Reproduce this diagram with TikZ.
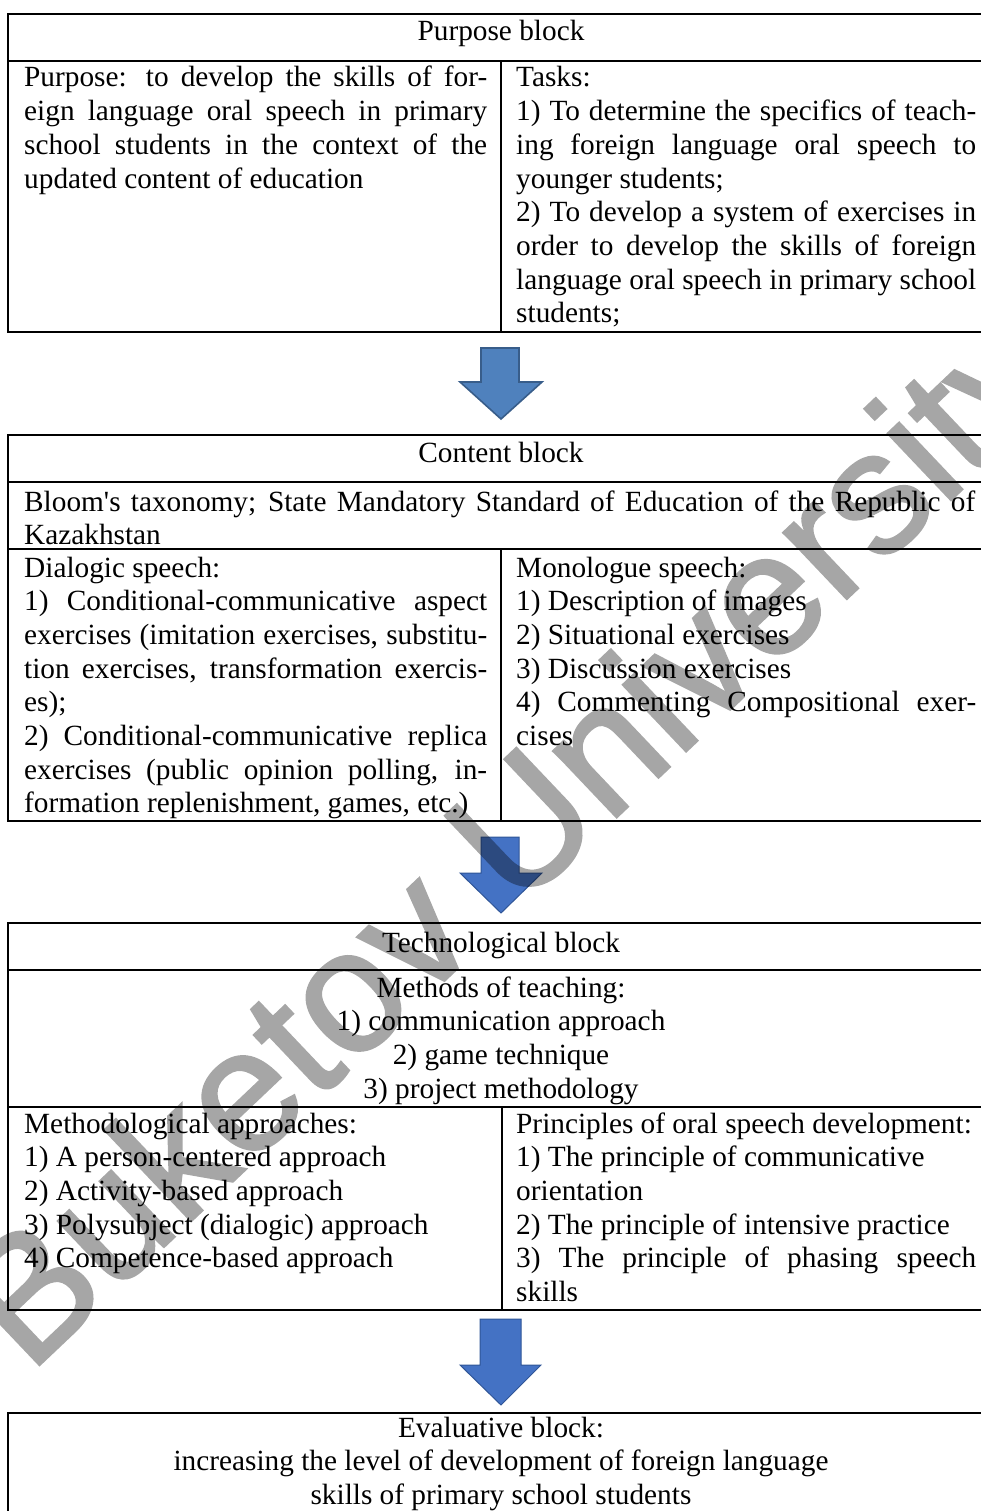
\documentclass[tikz,border=0pt]{standalone}
\usepackage{fontspec}
\setmainfont{Liberation Serif}
\newfontfamily\wmfont[FakeBold=1.5]{Liberation Sans}
\newcommand\jl[1]{\makebox[\linewidth][s]{#1}\\}
\newcommand\lastl[1]{#1}
\tikzset{
  frame/.style={draw=black, line width=1.6pt},
  txt/.style={inner sep=0pt, anchor=base west, font=\fontsize{29.3}{33.7}\selectfont},
  ctxt/.style={inner sep=0pt, anchor=base, font=\fontsize{29.3}{33.7}\selectfont},
  arrowA/.style={fill=arrowfillA, draw=arrowdrawA, line width=1.6pt, line join=miter},
  arrowB/.style={fill=arrowfillB, draw=arrowdrawB, line width=1pt, line join=miter},
  wm/.style={inner sep=0pt, text=black, font=\wmfont\fontsize{173}{173}\selectfont}
}
\definecolor{arrowfillA}{HTML}{4F81BD}
\definecolor{arrowdrawA}{HTML}{385D8A}
\definecolor{arrowfillB}{HTML}{4472C4}
\definecolor{arrowdrawB}{HTML}{2F5597}
\begin{document}
\begin{tikzpicture}[x=1pt,y=-1pt]
\useasboundingbox (0,0) rectangle (980,1511);
\fill[white] (0,0) rectangle (980,1511);

% ---------- Purpose block ----------
\draw[frame] (8,14) rectangle (994,332);
\draw[frame] (8,61) -- (994,61);
\draw[frame] (501,61) -- (501,332);
\node[ctxt] (ph) at (501,41) {Purpose block};
\node[txt] (pl) at (24,87) {\parbox[t]{463pt}{%
\jl{Purpose: to develop the skills of for-}
\jl{eign language oral speech in primary}
\jl{school students in the context of the}
\lastl{updated content of education}}};
\node[txt] (pr) at (516,87) {\parbox[t]{460pt}{%
Tasks:\\
\jl{1) To determine the specifics of teach-}
\jl{ing foreign language oral speech to}
younger students;\\
\jl{2) To develop a system of exercises in}
\jl{order to develop the skills of foreign}
\jl{language oral speech in primary school}
\lastl{students;}}};

% arrow 1
\draw[arrowA] (481,348) -- (519,348) -- (519,382) -- (542,382) -- (501,419) -- (460,382) -- (481,382) -- cycle;

% ---------- Content block ----------
\draw[frame] (8,435) rectangle (994,821);
\draw[frame] (8,482) -- (994,482);
\draw[frame] (8,549) -- (994,549);
\draw[frame] (501,549) -- (501,821);
\node[ctxt] (ch) at (501,462) {Content block};
\node[txt] (cb) at (24,511) {\parbox[t]{951pt}{%
\jl{Bloom\textquotesingle s taxonomy; State Mandatory Standard of Education of the Republic of}
\lastl{Kazakhstan}}};
\node[txt] (cl) at (24,577) {\parbox[t]{463pt}{%
Dialogic speech:\\
\jl{1) Conditional-communicative aspect}
\jl{exercises (imitation exercises, substitu-}
\jl{tion exercises, transformation exercis-}
es);\\
\jl{2) Conditional-communicative replica}
\jl{exercises (public opinion polling, in-}
\lastl{formation replenishment, games, etc.)}}};
\node[txt] (cr) at (516,577) {\parbox[t]{460pt}{%
Monologue speech:\\
1) Description of images\\
2) Situational exercises\\
3) Discussion exercises\\
\jl{4) Commenting Compositional exer-}
\lastl{cises}}};

% arrow 2
\draw[arrowB] (481,837) -- (519,837) -- (519,873) -- (542,873) -- (501,913) -- (460,873) -- (481,873) -- cycle;

% ---------- Technological block ----------
\draw[frame] (8,923) rectangle (994,1310);
\draw[frame] (8,970) -- (994,970);
\draw[frame] (8,1107) -- (994,1107);
\draw[frame] (502,1107) -- (502,1310);
\node[ctxt] (th) at (501,952) {Technological block};
\node[ctxt] (tm) at (501,997) {\parbox[t]{900pt}{\centering
Methods of teaching:\\
1) communication approach\\
2) game technique\\
3) project methodology}};
\node[txt] (tl) at (24,1133) {\parbox[t]{463pt}{%
Methodological approaches:\\
1) A person-centered approach\\
2) Activity-based approach\\
3) Polysubject (dialogic) approach\\
4) Competence-based approach}};
\node[txt] (tr) at (516,1133) {\parbox[t]{460pt}{%
Principles of oral speech development:\\
1) The principle of communicative\\
orientation\\
2) The principle of intensive practice\\
\jl{3) The principle of phasing speech}
\lastl{skills}}};

% arrow 3
\draw[arrowB] (480,1319) -- (521,1319) -- (521,1365) -- (541,1365) -- (501,1405) -- (460,1365) -- (480,1365) -- cycle;

% ---------- Evaluative block ----------
\draw[frame] (8,1413) rectangle (994,1530);
\node[ctxt] (ev) at (501,1437) {\parbox[t]{900pt}{\centering
Evaluative block:\\
increasing the level of development of foreign language\\
skills of primary school students}};

% ---------- watermark ----------
\begin{scope}[transparency group, opacity=0.35]
\node[wm, rotate=43.5] (wmk) at (518,849) {Buketov University};
\end{scope}
\end{tikzpicture}
\end{document}
